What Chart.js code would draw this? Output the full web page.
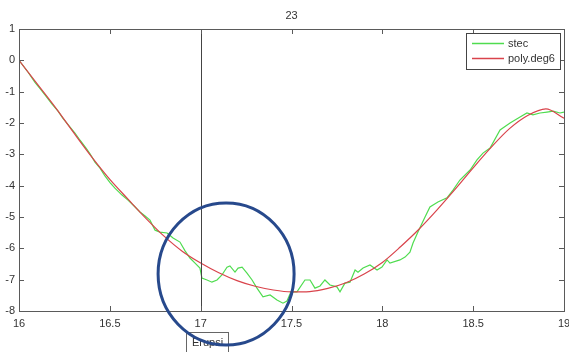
<!DOCTYPE html>
<html>
<head>
<meta charset="utf-8">
<script src="https://cdn.jsdelivr.net/npm/chart.js@4/dist/chart.umd.min.js"></script>
<style>
  body { margin: 0; background: #fff; }
  #wrap { width: 569px; height: 352px; }
</style>
</head>
<body>
<div id="wrap"><canvas id="chart" width="569" height="352"></canvas></div>
<script>
// Values
const chartTitle = "23";
const eventX = 17;
const eventLabel = "Erupsi";
const circleCenter = [17.14, -6.82];

const stecX = [16.000, 16.050, 16.088, 16.116, 16.143, 16.182, 16.215, 16.242, 16.270, 16.308,
  16.336, 16.369, 16.391, 16.418, 16.446, 16.473, 16.501, 16.528, 16.567, 16.600,
  16.639, 16.666, 16.694, 16.721, 16.749, 16.776, 16.815, 16.848, 16.886, 16.914,
  16.941, 16.969, 16.996, 17.007, 17.035, 17.062, 17.090, 17.117, 17.145, 17.161,
  17.189, 17.206, 17.228, 17.255, 17.283, 17.310, 17.343, 17.382, 17.420, 17.453,
  17.475, 17.497, 17.530, 17.574, 17.602, 17.629, 17.657, 17.684, 17.712, 17.750,
  17.767, 17.794, 17.822, 17.850, 17.866, 17.894, 17.932, 17.971, 17.998, 18.026,
  18.042, 18.097, 18.125, 18.152, 18.169, 18.196, 18.235, 18.262, 18.306, 18.356,
  18.389, 18.427, 18.483, 18.521, 18.554, 18.593, 18.648, 18.703, 18.758, 18.796,
  18.829, 18.868, 18.906, 18.940, 18.978, 19.000];
const stecY = [0.00, -0.38, -0.70, -0.90, -1.10, -1.40, -1.62, -1.85, -2.05, -2.32,
  -2.55, -2.80, -2.98, -3.25, -3.44, -3.69, -3.90, -4.08, -4.30, -4.46,
  -4.68, -4.84, -4.97, -5.10, -5.42, -5.48, -5.51, -5.67, -5.80, -6.08,
  -6.31, -6.47, -6.63, -6.95, -7.01, -7.08, -7.01, -6.85, -6.60, -6.56,
  -6.76, -6.63, -6.60, -6.79, -7.01, -7.27, -7.55, -7.49, -7.65, -7.75,
  -7.68, -7.39, -7.39, -7.01, -7.01, -7.27, -7.20, -7.01, -7.17, -7.23,
  -7.39, -7.11, -7.08, -6.69, -6.76, -6.63, -6.53, -6.69, -6.60, -6.37,
  -6.47, -6.37, -6.28, -6.12, -5.83, -5.48, -5.00, -4.68, -4.52, -4.39,
  -4.14, -3.82, -3.50, -3.18, -2.96, -2.80, -2.22, -2.00, -1.81, -1.68,
  -1.74, -1.68, -1.65, -1.62, -1.68, -1.65];

const polyX = [16.0, 16.1, 16.2, 16.3, 16.4, 16.5, 16.6, 16.7, 16.8, 16.9,
  17.0, 17.1, 17.2, 17.3, 17.4, 17.5, 17.6, 17.7, 17.8, 17.9,
  18.0, 18.1, 18.2, 18.3, 18.4, 18.5, 18.6, 18.7, 18.8, 18.9, 19.0];
const polyY = [0.00, -0.75, -1.50, -2.30, -3.08, -3.80, -4.43, -5.05, -5.62, -6.10,
  -6.47, -6.78, -7.03, -7.21, -7.33, -7.39, -7.38, -7.28, -7.10, -6.82,
  -6.45, -5.95, -5.40, -4.78, -4.12, -3.43, -2.77, -2.18, -1.76, -1.55, -1.85];

const seriesNames = ["stec", "poly.deg6"];
const seriesColors = ["#4fdc4f", "#d9434b"];

const xTicks = [16, 16.5, 17, 17.5, 18, 18.5, 19];
const yTicks = [1, 0, -1, -2, -3, -4, -5, -6, -7, -8];

const fontFamily = "'Liberation Sans', Arial, sans-serif";
const font = "11px " + fontFamily;

// draws the box, inside ticks, title, event line, circle and legend
const annotate = {
  id: "annotate",
  afterDraw(chart) {
    const ctx = chart.ctx;
    const a = chart.chartArea;
    const x = chart.scales.x;
    const y = chart.scales.y;
    ctx.save();

    // event line
    const ex = Math.round(x.getPixelForValue(eventX)) + 0.5;
    ctx.strokeStyle = "#444";
    ctx.lineWidth = 1;
    ctx.beginPath();
    ctx.moveTo(ex, a.top);
    ctx.lineTo(ex, a.bottom);
    ctx.stroke();

    // axes box
    ctx.strokeStyle = "#5a5a5a";
    ctx.strokeRect(Math.round(a.left) + 0.5, Math.round(a.top) + 0.5,
      Math.round(a.right - a.left), Math.round(a.bottom - a.top));

    // ticks pointing inward
    ctx.beginPath();
    xTicks.forEach(v => {
      const px = Math.round(x.getPixelForValue(v)) + 0.5;
      ctx.moveTo(px, a.bottom); ctx.lineTo(px, a.bottom - 5);
      ctx.moveTo(px, a.top); ctx.lineTo(px, a.top + 5);
    });
    yTicks.forEach(v => {
      const py = Math.round(y.getPixelForValue(v)) + 0.5;
      ctx.moveTo(a.left, py); ctx.lineTo(a.left + 5, py);
      ctx.moveTo(a.right, py); ctx.lineTo(a.right - 5, py);
    });
    ctx.stroke();

    // title
    ctx.fillStyle = "#333";
    ctx.font = font;
    ctx.textAlign = "center";
    ctx.textBaseline = "middle";
    ctx.fillText(chartTitle, (a.left + a.right) / 2, 16);

    // label box under the event line
    ctx.fillStyle = "#fff";
    ctx.fillRect(186.5, 332.5, 42, 22);
    ctx.strokeStyle = "#666";
    ctx.strokeRect(186.5, 332.5, 42, 22);
    ctx.fillStyle = "#333";
    ctx.fillText(eventLabel, 207.5, 343);

    // circle
    ctx.strokeStyle = "#27498c";
    ctx.lineWidth = 3;
    ctx.beginPath();
    ctx.ellipse(x.getPixelForValue(circleCenter[0]), y.getPixelForValue(circleCenter[1]), 68, 71, 0, 0, Math.PI * 2);
    ctx.stroke();

    // legend
    ctx.lineWidth = 1;
    ctx.fillStyle = "#fff";
    ctx.fillRect(466.5, 33.5, 94, 36);
    ctx.strokeStyle = "#444";
    ctx.strokeRect(466.5, 33.5, 94, 36);
    ctx.textAlign = "left";
    chart.data.datasets.forEach((ds, i) => {
      const ly = 43.5 + i * 15;
      ctx.strokeStyle = ds.borderColor;
      ctx.lineWidth = 1.5;
      ctx.beginPath();
      ctx.moveTo(472, ly);
      ctx.lineTo(504, ly);
      ctx.stroke();
      ctx.fillStyle = "#333";
      ctx.fillText(ds.label, 508, ly);
    });

    ctx.restore();
  }
};

new Chart(document.getElementById("chart"), {
  type: "line",
  data: {
    datasets: [
      {
        label: seriesNames[0],
        data: stecX.map((v, i) => ({ x: v, y: stecY[i] })),
        borderColor: seriesColors[0],
        borderWidth: 1.2,
        pointRadius: 0,
        tension: 0,
        order: 1
      },
      {
        label: seriesNames[1],
        data: polyX.map((v, i) => ({ x: v, y: polyY[i] })),
        borderColor: seriesColors[1],
        borderWidth: 1.2,
        pointRadius: 0,
        cubicInterpolationMode: "monotone",
        order: 0
      }
    ]
  },
  options: {
    responsive: false,
    animation: false,
    layout: { padding: { top: 29, right: 5, left: 0, bottom: 0 } },
    plugins: { legend: { display: false }, tooltip: { enabled: false } },
    scales: {
      x: {
        type: "linear",
        min: 16,
        max: 19,
        afterBuildTicks: s => { s.ticks = xTicks.map(v => ({ value: v })); },
        afterFit: s => { s.height = 41; s.paddingLeft = 0; s.paddingRight = 0; },
        grid: { display: false, drawTicks: false },
        border: { display: false },
        ticks: { color: "#333", padding: 6, maxRotation: 0, autoSkip: false,
          callback: v => String(v),
          font: { family: fontFamily, size: 11 } }
      },
      y: {
        type: "linear",
        min: -8,
        max: 1,
        afterBuildTicks: s => { s.ticks = yTicks.map(v => ({ value: v })); },
        afterFit: s => { s.width = 19; s.paddingTop = 0; s.paddingBottom = 0; },
        grid: { display: false, drawTicks: false },
        border: { display: false },
        ticks: { color: "#333", padding: 4, autoSkip: false,
          callback: v => String(v),
          font: { family: fontFamily, size: 11 } }
      }
    }
  },
  plugins: [annotate]
});
</script>
</body>
</html>
